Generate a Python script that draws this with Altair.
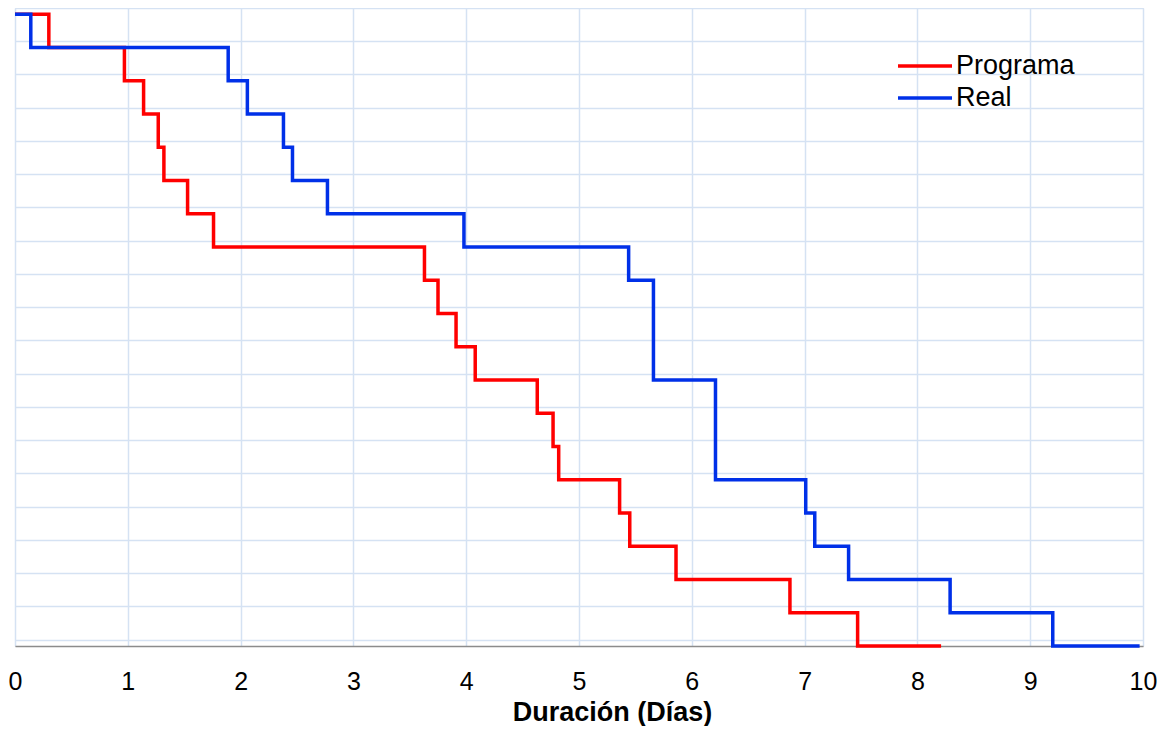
import altair as alt
import pandas as pd

# Programa (red) step curve: x where each step starts, and level
prog_x = [0.0, 0.30, 0.97, 1.14, 1.27, 1.32, 1.53, 1.76, 3.63, 3.75, 3.91, 4.08,
          4.63, 4.77, 4.82, 5.36, 5.45, 5.86, 6.87, 7.47, 8.21]
prog_y = [19, 18, 17, 16, 15, 14, 13, 12, 11, 10, 9, 8, 7, 6, 5, 4, 3, 2, 1, 0, 0]

# Real (blue) step curve
real_x = [0.0, 0.14, 1.89, 2.06, 2.38, 2.46, 2.77, 3.98, 5.44, 5.66, 6.21,
          7.01, 7.09, 7.39, 8.29, 9.20, 9.97]
real_y = [19, 18, 17, 16, 15, 14, 13, 12, 11, 8, 5, 4, 3, 2, 1, 0, 0]

series = ["Programa", "Real"]
colors = ["#FF0000", "#0030E8"]
x_ticks = list(range(0, 11))
y_grid = [0.19 + k for k in range(20)]

rows = []
for i, (xv, yv) in enumerate(zip(prog_x, prog_y)):
    rows.append({"serie": "Programa", "x": xv, "y": yv, "i": i})
for i, (xv, yv) in enumerate(zip(real_x, real_y)):
    rows.append({"serie": "Real", "x": xv, "y": yv, "i": i})
df = pd.DataFrame(rows)

FONT = "Liberation Sans"

chart = alt.Chart(df).mark_line(
    interpolate="step-after", strokeWidth=3.5
).encode(
    x=alt.X("x:Q",
            scale=alt.Scale(domain=[0, 10], nice=False, zero=False),
            axis=alt.Axis(values=x_ticks, title="Duración (Días)", format="d",
                          ticks=False, labelPadding=23, labelFontSize=25,
                          labelFont=FONT, labelColor="#000000",
                          titleFont=FONT, titleFontSize=27, titleFontWeight="bold",
                          titleColor="#000000", titleX=597, titleY=74,
                          titleBaseline="alphabetic", titleAlign="center",
                          grid=True, gridColor="#D5E2F3", gridWidth=1.5,
                          domainColor="#8C8C8C", domainWidth=1.5,
                          labelFlush=False)),
    y=alt.Y("y:Q",
            scale=alt.Scale(domain=[0, 19.19], nice=False, zero=False),
            axis=alt.Axis(values=y_grid, title=None, labels=False, ticks=False,
                          domain=False, grid=True, gridColor="#D5E2F3",
                          gridWidth=1.5)),
    color=alt.Color("serie:N",
                    scale=alt.Scale(domain=series, range=colors),
                    legend=alt.Legend(title=None, orient="none",
                                      legendX=881, legendY=42,
                                      symbolType="stroke", symbolSize=2916,
                                      symbolStrokeWidth=3.5,
                                      labelFont=FONT, labelFontSize=27,
                                      labelColor="#000000", labelOffset=2,
                                      clipHeight=32, rowPadding=0)),
    order=alt.Order("i:Q"),
).properties(
    width=1128,
    height=638,
    padding={"left": 7, "top": 0, "right": 14, "bottom": 80},
    autosize=alt.AutoSizeParams(type="none"),
).configure_view(
    stroke="#BCC3CC", strokeWidth=1.5
).configure(
    background="#FFFFFF"
)

chart.save("out.html", embed_options={"renderer": "svg", "actions": False})
